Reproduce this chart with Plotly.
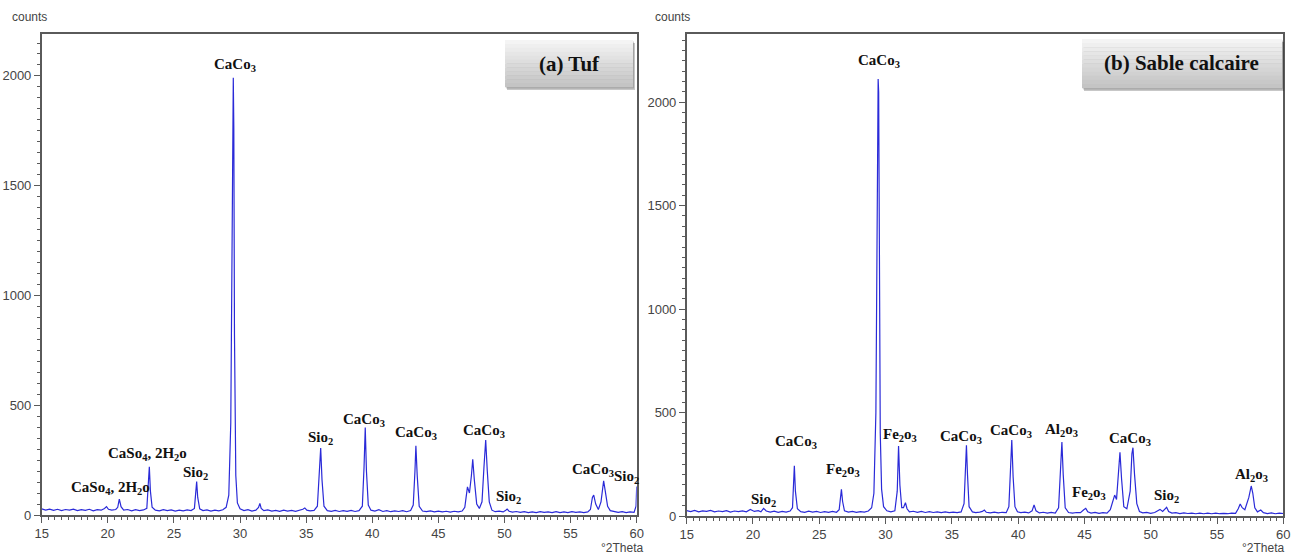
import plotly.graph_objects as go

# ---------------- data ----------------
tuf_theta = [15.0, 15.3, 15.6, 15.9, 16.2, 16.5, 16.8, 17.1, 17.4, 17.7, 18.0, 18.3, 18.6, 18.9, 19.2, 19.5,
             19.75, 19.9, 20.05, 20.3, 20.6, 20.75, 20.87, 21.0, 21.2, 21.5, 21.8, 22.1, 22.4, 22.7, 22.95,
             23.05, 23.14, 23.22, 23.35, 23.6, 23.9, 24.2, 24.5, 24.8, 25.1, 25.4, 25.7, 26.0, 26.3, 26.55,
             26.65, 26.72, 26.8, 26.95, 27.2, 27.5, 27.8, 28.1, 28.4, 28.7, 28.95, 29.15, 29.3, 29.4, 29.45,
             29.49, 29.53, 29.58, 29.68, 29.8, 30.0, 30.3, 30.6, 30.9, 31.2, 31.4, 31.5, 31.6, 31.8, 32.1,
             32.4, 32.7, 33.0, 33.3, 33.6, 33.9, 34.2, 34.5, 34.75, 34.9, 35.05, 35.3, 35.6, 35.85, 36.0,
             36.1, 36.2, 36.35, 36.6, 36.9, 37.2, 37.5, 37.8, 38.1, 38.4, 38.7, 39.0, 39.25, 39.38, 39.47,
             39.56, 39.7, 39.9, 40.2, 40.5, 40.8, 41.1, 41.4, 41.7, 42.0, 42.3, 42.6, 42.9, 43.1, 43.23,
             43.3, 43.4, 43.55, 43.8, 44.1, 44.4, 44.7, 45.0, 45.3, 45.6, 45.9, 46.2, 46.5, 46.8, 47.0,
             47.2, 47.35, 47.5, 47.6, 47.72, 47.9, 48.1, 48.3, 48.45, 48.58, 48.7, 48.85, 49.05, 49.3, 49.6,
             49.9, 50.1, 50.2, 50.35, 50.6, 50.9, 51.2, 51.5, 51.8, 52.1, 52.4, 52.7, 53.0, 53.3, 53.6,
             53.9, 54.2, 54.5, 54.8, 55.1, 55.4, 55.7, 56.0, 56.3, 56.5, 56.65, 56.75, 56.9, 57.1, 57.3,
             57.42, 57.5, 57.62, 57.8, 58.0, 58.3, 58.6, 58.9, 59.2, 59.5, 59.8, 59.95, 60.0]
tuf_counts = [28, 22, 27, 21, 26, 20, 25, 22, 27, 20, 24, 21, 26, 19, 24, 22,
              30, 38, 26, 22, 25, 35, 72, 38, 22, 25, 19, 24, 20, 23, 30,
              120, 220, 110, 35, 22, 19, 24, 20, 23, 18, 22, 19, 23, 20, 30,
              95, 152, 80, 28, 20, 23, 18, 22, 19, 24, 35, 90, 420, 1450, 1762,
              1992, 1762, 820, 180, 55, 28, 20, 24, 18, 22, 35, 53, 30, 20, 23,
              18, 21, 17, 22, 18, 21, 17, 21, 26, 32, 22, 19, 21, 40, 180,
              305, 160, 40, 20, 17, 21, 16, 20, 17, 21, 16, 20, 40, 220, 399,
              200, 45, 22, 18, 24, 16, 20, 15, 19, 16, 20, 15, 20, 45, 200,
              315, 180, 40, 18, 15, 19, 14, 18, 14, 17, 13, 17, 14, 18, 35,
              128, 100, 180, 254, 160, 50, 30, 60, 220, 342, 200, 60, 22, 15, 18,
              14, 22, 27, 17, 13, 16, 12, 15, 11, 14, 11, 15, 12, 14, 11,
              15, 11, 14, 11, 15, 12, 14, 11, 14, 25, 80, 91, 50, 25, 60,
              140, 156, 110, 40, 20, 16, 12, 15, 11, 14, 12, 40, 130]

sab_theta = [15.0, 15.3, 15.6, 15.9, 16.2, 16.5, 16.8, 17.1, 17.4, 17.7, 18.0, 18.3, 18.6, 18.9, 19.2, 19.5,
             19.8, 20.1, 20.4, 20.6, 20.8, 21.0, 21.3, 21.6, 21.9, 22.2, 22.5, 22.8, 22.98, 23.06, 23.12,
             23.2, 23.35, 23.6, 23.9, 24.2, 24.5, 24.8, 25.1, 25.4, 25.7, 26.0, 26.3, 26.5, 26.6, 26.67,
             26.76, 26.9, 27.2, 27.5, 27.8, 28.1, 28.4, 28.7, 28.95, 29.12, 29.27, 29.37, 29.41, 29.44, 29.48,
             29.53, 29.6, 29.7, 29.85, 30.1, 30.4, 30.7, 30.88, 30.98, 31.08, 31.22, 31.35, 31.5, 31.62, 31.8,
             32.1, 32.4, 32.7, 33.0, 33.3, 33.6, 33.9, 34.2, 34.5, 34.8, 35.1, 35.4, 35.7, 35.92, 36.03,
             36.1, 36.18, 36.3, 36.55, 36.8, 37.1, 37.3, 37.45, 37.6, 37.9, 38.2, 38.5, 38.8, 39.1, 39.3,
             39.42, 39.52, 39.62, 39.76, 39.95, 40.2, 40.5, 40.8, 41.05, 41.2, 41.35, 41.6, 41.9, 42.2, 42.5,
             42.8, 43.05, 43.2, 43.3, 43.4, 43.55, 43.8, 44.1, 44.4, 44.7, 44.95, 45.1, 45.25, 45.5, 45.8,
             46.1, 46.4, 46.7, 46.95, 47.15, 47.28, 47.42, 47.58, 47.68, 47.8, 47.97, 48.2, 48.45, 48.58, 48.66,
             48.78, 48.95, 49.15, 49.4, 49.7, 50.0, 50.3, 50.55, 50.7, 50.9, 51.1, 51.2, 51.35, 51.6, 51.9,
             52.2, 52.5, 52.8, 53.1, 53.4, 53.7, 54.0, 54.3, 54.6, 54.9, 55.2, 55.5, 55.8, 56.1, 56.4,
             56.6, 56.75, 56.9, 57.1, 57.4, 57.58, 57.7, 57.85, 58.05, 58.3, 58.5, 58.8, 59.1, 59.4, 59.7, 60.0]
sab_counts = [26, 21, 27, 20, 25, 22, 27, 20, 24, 21, 26, 19, 24, 21, 25, 20,
              32, 22, 26, 20, 37, 24, 19, 23, 18, 22, 19, 24, 40, 140, 243,
              120, 35, 21, 18, 23, 19, 22, 17, 21, 18, 22, 18, 30, 80, 129,
              70, 25, 19, 22, 18, 21, 19, 24, 40, 110, 500, 1600, 2048, 2112, 2048,
              1100, 400, 130, 45, 25, 20, 25, 120, 338, 150, 40, 40, 64, 35, 20,
              23, 18, 22, 17, 21, 17, 20, 16, 20, 16, 19, 16, 20, 60, 250,
              342, 200, 45, 20, 16, 19, 22, 29, 18, 15, 19, 15, 18, 16, 45,
              220, 367, 190, 45, 20, 16, 19, 15, 25, 53, 25, 15, 18, 14, 17,
              14, 40, 200, 358, 200, 40, 17, 14, 17, 16, 30, 37, 20, 14, 17,
              13, 16, 14, 30, 80, 101, 80, 250, 308, 180, 45, 35, 120, 300, 330,
              200, 60, 22, 15, 17, 13, 17, 25, 32, 22, 36, 42, 22, 14, 16,
              12, 15, 12, 14, 11, 14, 11, 14, 11, 14, 11, 13, 11, 14, 13,
              35, 58, 40, 30, 90, 145, 110, 40, 20, 29, 16, 12, 15, 11, 14, 12]

tuf_labels = ["CaSo<sub>4</sub>, 2H<sub>2</sub>o", "CaSo<sub>4</sub>, 2H<sub>2</sub>o", "Sio<sub>2</sub>",
              "CaCo<sub>3</sub>", "Sio<sub>2</sub>", "CaCo<sub>3</sub>", "CaCo<sub>3</sub>", "CaCo<sub>3</sub>",
              "Sio<sub>2</sub>", "CaCo<sub>3</sub>", "Sio<sub>2</sub>"]
tuf_label_x = [20.2, 23.0, 26.6, 29.6, 36.1, 39.4, 43.3, 48.45, 50.3, 56.7, 59.25]
tuf_label_y = [123, 278, 191, 2050, 351, 433, 373, 383, 82, 205, 173]

sab_labels = ["Sio<sub>2</sub>", "CaCo<sub>3</sub>", "Fe<sub>2</sub>o<sub>3</sub>", "CaCo<sub>3</sub>",
              "Fe<sub>2</sub>o<sub>3</sub>", "CaCo<sub>3</sub>", "CaCo<sub>3</sub>", "Al<sub>2</sub>o<sub>3</sub>",
              "Fe<sub>2</sub>o<sub>3</sub>", "CaCo<sub>3</sub>", "Sio<sub>2</sub>", "Al<sub>2</sub>o<sub>3</sub>"]
sab_label_x = [20.83, 23.24, 26.8, 29.5, 31.1, 35.7, 39.46, 43.3, 45.35, 48.44, 51.2, 57.57]
sab_label_y = [77, 359, 222, 2200, 391, 383, 412, 416, 111, 372, 97, 198]

panel_titles = ["(a) Tuf", "(b) Sable calcaire"]
y_ticks = [0, 500, 1000, 1500, 2000]
x_ticks = [15, 20, 25, 30, 35, 40, 45, 50, 55, 60]

# ---------------- figure ----------------
W, H = 1303, 559
LINE = "#2a2ad8"
AX = "#5a5a5a"
TICKFONT = dict(family="Liberation Sans Narrow, Arial Narrow, Liberation Sans, Arial", size=13, color="#444444")
LABFONT = dict(family="Liberation Serif, Times New Roman, serif", size=15, color="#111111")

fig = go.Figure()
fig.add_trace(go.Scatter(x=tuf_theta, y=tuf_counts, mode="lines", line=dict(color=LINE, width=1.2),
                         xaxis="x", yaxis="y", showlegend=False, hoverinfo="skip"))
fig.add_trace(go.Scatter(x=sab_theta, y=sab_counts, mode="lines", line=dict(color=LINE, width=1.2),
                         xaxis="x2", yaxis="y2", showlegend=False, hoverinfo="skip"))


def px(x):
    return x / W


def py(y):
    return 1 - y / H


def xaxis(domain, anchor):
    return dict(domain=domain, anchor=anchor, range=[15, 60], tickvals=x_ticks, ticks="outside",
                ticklen=6, tickwidth=1, tickcolor=AX, showline=True, linecolor=AX, linewidth=1.5,
                mirror=True, showgrid=False, zeroline=False, tickfont=TICKFONT, automargin=False,
                minor=dict(dtick=0.5, tick0=15, ticks="outside", ticklen=3, tickcolor=AX, showgrid=False))


def yaxis(domain, anchor, top):
    return dict(domain=domain, anchor=anchor, range=[0, top], tickvals=y_ticks, ticks="outside",
                ticklen=6, tickwidth=1, tickcolor=AX, showline=True, linecolor=AX, linewidth=1.5,
                mirror=True, showgrid=False, zeroline=False, tickfont=TICKFONT, automargin=False,
                minor=dict(dtick=50, tick0=0, ticks="outside", ticklen=3, tickcolor=AX, showgrid=False))


fig.update_layout(
    width=W, height=H, margin=dict(l=0, r=0, t=0, b=0, autoexpand=False),
    paper_bgcolor="white", plot_bgcolor="white",
    xaxis=xaxis([px(41.7), px(636.7)], "y"),
    yaxis=yaxis([py(515), py(34)], "x", 2191),
    xaxis2=xaxis([px(686.7), px(1283.3)], "y2"),
    yaxis2=yaxis([py(516), py(34.3)], "x2", 2328),
)

annotations = []
for t, x, y in zip(tuf_labels, tuf_label_x, tuf_label_y):
    annotations.append(dict(text="<b>" + t + "</b>", x=x, y=y, xref="x", yref="y", showarrow=False,
                            font=LABFONT, xanchor="center", yanchor="middle"))
for t, x, y in zip(sab_labels, sab_label_x, sab_label_y):
    annotations.append(dict(text="<b>" + t + "</b>", x=x, y=y, xref="x2", yref="y2", showarrow=False,
                            font=LABFONT, xanchor="center", yanchor="middle"))

# axis titles
AXT = dict(family="Liberation Sans Narrow, Arial Narrow, Liberation Sans, Arial", size=12, color="#444444")
for xl, xr in [(10, 645), (653, 1286)]:
    annotations.append(dict(text="counts", x=px(xl), y=py(17), xref="paper", yref="paper", showarrow=False,
                            xanchor="left", yanchor="middle", font=AXT))
    annotations.append(dict(text="°2Theta", x=px(xr), y=py(548), xref="paper", yref="paper",
                            showarrow=False, xanchor="right", yanchor="middle", font=AXT))

# title boxes with gradient and shadow
shapes = []
boxes = [(505, 633, 40, 87), (1082, 1282, 39, 88)]
centers = [(569, 64), (1181, 63)]
for (x0, x1, y0, y1), (cx, cy), title in zip(boxes, centers, panel_titles):
    shapes.append(dict(type="rect", xref="paper", yref="paper", x0=px(x0 + 2), x1=px(x1 + 2),
                       y0=py(y1 + 3), y1=py(y0 + 3), fillcolor="rgba(0,0,0,0.22)", line=dict(width=0),
                       layer="above"))
    shapes.append(dict(type="rect", xref="paper", yref="paper", x0=px(x0 + 1), x1=px(x1 + 1),
                       y0=py(y1 + 1.5), y1=py(y0 + 1.5), fillcolor="rgba(0,0,0,0.18)", line=dict(width=0),
                       layer="above"))
    n = 12
    h = (y1 - y0) / n
    for i in range(n):
        g = int(244 - (244 - 196) * i / (n - 1))
        shapes.append(dict(type="rect", xref="paper", yref="paper", x0=px(x0), x1=px(x1),
                           y0=py(y0 + (i + 1) * h + 0.3), y1=py(y0 + i * h),
                           fillcolor=f"rgb({g},{g},{g})", line=dict(width=0), layer="above"))
    annotations.append(dict(text="<b>" + title + "</b>", x=px(cx), y=py(cy), xref="paper", yref="paper",
                            showarrow=False, xanchor="center", yanchor="middle",
                            font=dict(family="Liberation Serif, Times New Roman, serif", size=21,
                                      color="#111111")))

fig.update_layout(annotations=annotations, shapes=shapes)
fig.write_html("out.html", config={"displayModeBar": False},
               post_script="document.body.style.margin='0';document.body.style.overflow='hidden';")
